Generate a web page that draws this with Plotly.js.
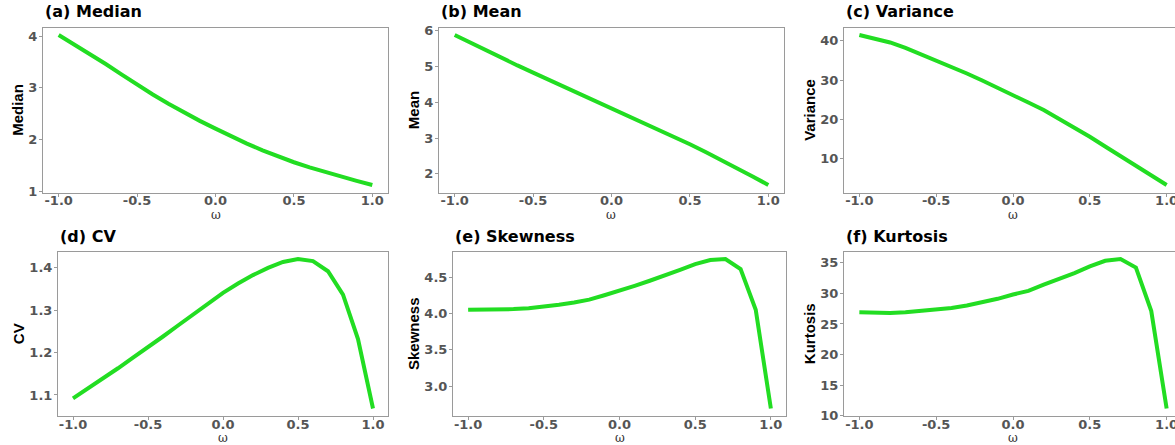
<!DOCTYPE html>
<html>
<head>
<meta charset="utf-8">
<script src="https://cdn.plot.ly/plotly-3.0.1.min.js"></script>
<style>
  html, body { margin: 0; padding: 0; overflow: hidden; background: #fff; }
  #chart { width: 1190px; height: 445px; }
</style>
</head>
<body>
<div id="chart"></div>
<script>
// Shape parameter grid
const omega = [-1.0, -0.9, -0.8, -0.7, -0.6, -0.5, -0.4, -0.3, -0.2, -0.1, 0.0,
               0.1, 0.2, 0.3, 0.4, 0.5, 0.6, 0.7, 0.8, 0.9, 1.0];
const omegaTickVals = [-1, -0.5, 0, 0.5, 1];
const omegaTickLabels = ['-1.0', '-0.5', '0.0', '0.5', '1.0'];

// Distribution summaries as functions of omega
const medianVals = [4.02, 3.84, 3.66, 3.46, 3.26, 3.06, 2.87, 2.69, 2.52, 2.36, 2.21,
                    2.06, 1.92, 1.79, 1.67, 1.56, 1.46, 1.37, 1.28, 1.20, 1.12];
const meanVals = [5.88, 5.66, 5.45, 5.24, 5.03, 4.83, 4.63, 4.43, 4.24, 4.05, 3.86,
                  3.66, 3.46, 3.25, 3.04, 2.83, 2.61, 2.39, 2.16, 1.93, 1.69];
const varianceVals = [41.5, 40.6, 39.6, 38.2, 36.6, 35.0, 33.4, 31.7, 29.9, 28.1, 26.3,
                      24.3, 22.4, 20.2, 17.9, 15.6, 13.1, 10.6, 8.1, 5.7, 3.3];
const cvVals = [1.092, 1.115, 1.139, 1.163, 1.188, 1.212, 1.238, 1.264, 1.290, 1.316, 1.341,
                1.363, 1.383, 1.400, 1.414, 1.421, 1.416, 1.392, 1.337, 1.232, 1.068];
const skewnessVals = [4.05, 4.05, 4.05, 4.06, 4.07, 4.09, 4.12, 4.15, 4.19, 4.25, 4.31,
                      4.38, 4.45, 4.52, 4.60, 4.68, 4.735, 4.75, 4.61, 4.05, 2.69];
const kurtosisVals = [26.9, 26.8, 26.8, 26.9, 27.1, 27.25, 27.6, 28.0, 28.5, 29.1, 29.8,
                      30.4, 31.4, 32.3, 33.3, 34.4, 35.3, 35.6, 34.2, 27.1, 11.2];

const panelTitles = ['(a) Median', '(b) Mean', '(c) Variance', '(d) CV', '(e) Skewness', '(f) Kurtosis'];
const yTitles = ['Median', 'Mean', 'Variance', 'CV', 'Skewness', 'Kurtosis'];
const xTitle = 'ω';
const yTickVals = [[1, 2, 3, 4], [2, 3, 4, 5, 6], [10, 20, 30, 40],
                   [1.1, 1.2, 1.3, 1.4], [3.0, 3.5, 4.0, 4.5], [10, 15, 20, 25, 30, 35]];
const yTickLabels = [['1', '2', '3', '4'], ['2', '3', '4', '5', '6'], ['10', '20', '30', '40'],
                     ['1.1', '1.2', '1.3', '1.4'], ['3.0', '3.5', '4.0', '4.5'],
                     ['10', '15', '20', '25', '30', '35']];

const series = [medianVals, meanVals, varianceVals, cvVals, skewnessVals, kurtosisVals];

// Panel boxes in pixels: [left, right, top, bottom]
const W = 1190, H = 445;
const boxes = [
  [43, 388, 27.5, 192.5], [439, 784, 27.5, 192.5], [844, 1182, 27.5, 192.5],
  [58, 388, 251.5, 416], [453, 786, 251.5, 416], [844, 1182, 251.5, 416]
];

const lineGreen = '#22dd22';
const axisGrey = '#9a9a9a';
const tickFont = { family: 'DejaVu Sans, sans-serif', size: 13, color: '#555555', weight: 'bold' };

function padded(vals, frac) {
  const lo = Math.min(...vals), hi = Math.max(...vals);
  const pad = (hi - lo) * frac;
  return [lo - pad, hi + pad];
}

const traces = [];
const layout = {
  width: W, height: H,
  autosize: false,
  margin: { l: 0, r: 0, t: 0, b: 0 },
  paper_bgcolor: '#ffffff',
  plot_bgcolor: '#ffffff',
  showlegend: false,
  annotations: []
};

series.forEach((vals, i) => {
  const n = i + 1;
  const xa = n === 1 ? 'x' : 'x' + n;
  const ya = n === 1 ? 'y' : 'y' + n;
  traces.push({
    type: 'scatter', mode: 'lines',
    x: omega, y: vals,
    xaxis: xa, yaxis: ya,
    line: { color: lineGreen, width: 4 },
    hoverinfo: 'x+y'
  });
  const [l, r, t, b] = boxes[i];
  const common = {
    showline: true, mirror: true, linecolor: axisGrey, linewidth: 1,
    showgrid: false, zeroline: false,
    ticks: 'outside', ticklen: 3, tickwidth: 1, tickcolor: axisGrey,
    tickfont: tickFont, automargin: false
  };
  layout['xaxis' + (n === 1 ? '' : n)] = Object.assign({}, common, {
    domain: [l / W, r / W],
    anchor: ya,
    range: [-1.1, 1.1],
    tickvals: omegaTickVals, ticktext: omegaTickLabels,
    ticklabelstandoff: -7
  });
  layout['yaxis' + (n === 1 ? '' : n)] = Object.assign({}, common, {
    domain: [1 - b / H, 1 - t / H],
    anchor: xa,
    range: padded(vals, 0.05),
    tickvals: yTickVals[i], ticktext: yTickLabels[i],
    ticklabelstandoff: -1,
    title: { text: yTitles[i], standoff: 1,
             font: { family: 'Liberation Sans Narrow, Arial Narrow, Liberation Sans, sans-serif',
                     size: 15, color: '#000000', weight: 'bold' } }
  });
  // panel heading
  layout.annotations.push({
    xref: 'paper', yref: 'paper',
    x: l / W, y: 1 - (t - 4) / H,
    xanchor: 'left', yanchor: 'bottom',
    showarrow: false,
    text: panelTitles[i],
    font: { family: 'DejaVu Sans, sans-serif', size: 16, color: '#000000', weight: 'bold' }
  });
  // x-axis label under the tick labels
  layout.annotations.push({
    xref: 'paper', yref: 'paper',
    x: (l + r) / 2 / W, y: 1 - (b + 22) / H,
    xanchor: 'center', yanchor: 'middle',
    showarrow: false,
    text: xTitle,
    font: { family: 'DejaVu Serif, serif', size: 12, color: '#333333' }
  });
});

Plotly.newPlot('chart', traces, layout, { displayModeBar: false, staticPlot: true });
</script>
</body>
</html>
